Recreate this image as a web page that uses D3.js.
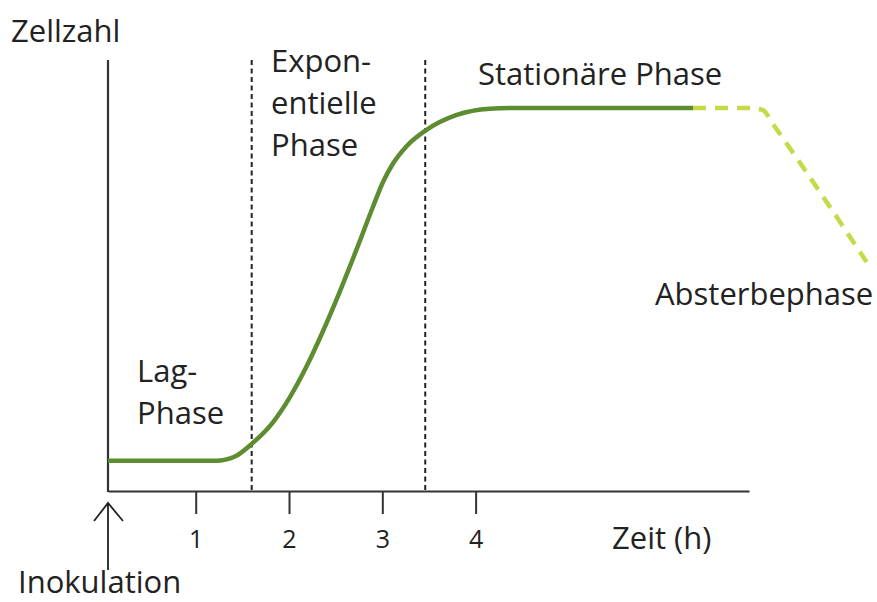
<!DOCTYPE html>
<html>
<head>
<meta charset="utf-8">
<script src="https://cdn.jsdelivr.net/npm/d3@7"></script>
<style>
  body { margin: 0; background: #fff; }
  text { font-family: "Open Sans", sans-serif; fill: #222; }
</style>
</head>
<body>
<div id="chart"></div>
<script>
// growth curve of a bacterial culture
var growthTime  = [0.06, 1.22, 1.42, 1.60, 1.83, 2.01, 2.19, 2.36, 2.54, 2.72, 2.90, 3.01, 3.11, 3.26, 3.47, 3.79, 4.15, 4.47, 6.33];
var growthCells = [7.9, 7.9, 9.0, 12.3, 18.0, 24.5, 32.6, 41.5, 51.8, 62.8, 74.2, 80.8, 85.3, 90.0, 94.2, 98.1, 99.8, 100, 100];

// death phase (dashed)
var deathTime  = [6.33, 6.94, 7.08, 7.18, 8.19];
var deathCells = [100, 100, 99.4, 96, 59.8];

var tickValues = [1, 2, 3, 4];
var phaseBorders = [1.60, 3.46];

var width = 877, height = 602;

var x_scale = d3.scaleLinear()
    .domain([0.06, 6.93])
    .range([108, 749]);
var y_scale = d3.scaleLinear()
    .domain([0, 112.5])
    .range([491, 60]);

var svg = d3.select("#chart")
    .append("svg")
        .attr("width", width)
        .attr("height", height);

// phase borders
svg.selectAll(".border")
    .data(phaseBorders)
    .enter()
    .append("line")
        .attr("class", "border")
        .attr("x1", function(d) { return x_scale(d); })
        .attr("x2", function(d) { return x_scale(d); })
        .attr("y1", y_scale.range()[1])
        .attr("y2", y_scale.range()[0])
        .attr("stroke", "#222")
        .attr("stroke-width", 2)
        .attr("stroke-dasharray", "5,3.5");

// x axis
var xAxis = svg.append("g")
    .attr("transform", "translate(0," + y_scale(0) + ")")
    .call(d3.axisBottom(x_scale)
        .tickValues(tickValues)
        .tickFormat(d3.format("d"))
        .tickSize(23)
        .tickSizeOuter(0)
        .tickPadding(16));
xAxis.select(".domain").attr("stroke", "#333").attr("stroke-width", 2.2);
xAxis.selectAll(".tick line").attr("stroke", "#333").attr("stroke-width", 2);
xAxis.selectAll(".tick text")
    .attr("font-family", "Open Sans, sans-serif")
    .attr("font-size", 25)
    .attr("fill", "#222");

// y axis (no ticks)
svg.append("line")
    .attr("x1", x_scale.range()[0])
    .attr("x2", x_scale.range()[0])
    .attr("y1", y_scale.range()[1])
    .attr("y2", y_scale(0) + 1)
    .attr("stroke", "#333")
    .attr("stroke-width", 2.2);

var line = d3.line()
    .x(function(d) { return x_scale(d[0]); })
    .y(function(d) { return y_scale(d[1]); })
    .curve(d3.curveMonotoneX);

svg.append("path")
    .datum(deathTime.map(function(t, i) { return [t, deathCells[i]]; }))
    .attr("d", line)
    .attr("fill", "none")
    .attr("stroke", "#c6da48")
    .attr("stroke-width", 4.5)
    .attr("stroke-dasharray", "13,9");

svg.append("path")
    .datum(growthTime.map(function(t, i) { return [t, growthCells[i]]; }))
    .attr("d", line)
    .attr("fill", "none")
    .attr("stroke", "#5e8c30")
    .attr("stroke-width", 4.5);

// inoculation arrow
var ax = x_scale.range()[0];
svg.append("path")
    .attr("d", "M" + ax + ",570V503M" + (ax - 14) + ",521L" + ax + ",503L" + (ax + 15) + ",521")
    .attr("fill", "none")
    .attr("stroke", "#222")
    .attr("stroke-width", 1.8);

// labels
var labels = [
    {lines: ["Zellzahl"], x: 11, y: 42},
    {lines: ["Expon-", "entielle", "Phase"], x: 271, y: 72},
    {lines: ["Stationäre Phase"], x: 478, y: 85},
    {lines: ["Absterbephase"], x: 655, y: 305},
    {lines: ["Lag-", "Phase"], x: 137, y: 382},
    {lines: ["Zeit (h)"], x: 612, y: 549},
    {lines: ["Inokulation"], x: 18, y: 593}
];

labels.forEach(function(l) {
    var txt = svg.append("text")
        .attr("x", l.x)
        .attr("y", l.y)
        .attr("font-size", 31);
    l.lines.forEach(function(s, i) {
        txt.append("tspan")
            .attr("x", l.x)
            .attr("dy", i == 0 ? 0 : 42)
            .text(s);
    });
});
</script>
</body>
</html>
